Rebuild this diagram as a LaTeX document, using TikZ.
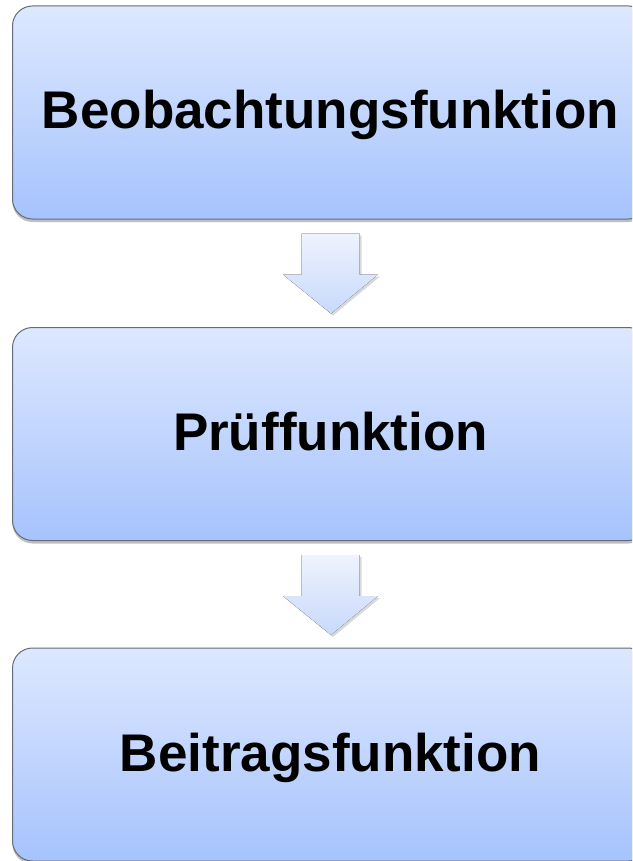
\documentclass[tikz,border=0pt]{standalone}
\usepackage{fontspec}
\setmainfont{Liberation Sans}
\usetikzlibrary{shadows,calc}
\definecolor{boxtop}{HTML}{DDE8FE}
\definecolor{boxbot}{HTML}{A6C3FD}
\definecolor{boxline}{HTML}{656B78}
\definecolor{arrtop}{HTML}{EEF3FD}
\definecolor{arrbot}{HTML}{C8D9FB}
\begin{document}
\begin{tikzpicture}[x=1pt,y=1pt,
  box/.style={rectangle, rounded corners=20pt, draw=boxline, line width=1pt,
    top color=boxtop, bottom color=boxbot, minimum width=636pt, minimum height=213pt,
    inner sep=0pt, text height=33pt, text depth=0pt, font=\fontsize{53}{60}\selectfont\bfseries,
    drop shadow={shadow xshift=0pt, shadow yshift=-3pt, opacity=0.25, fill=black}},
  blockarrow/.style={top color=arrtop, bottom color=arrbot,
    drop shadow={shadow xshift=2pt, shadow yshift=-2pt, opacity=0.15, fill=black}}]
\useasboundingbox (0,0) rectangle (632,-861);
\clip (0,0) rectangle (632,-861);
\fill[white] (0,0) rectangle (632,-861);
\node[box] (b1) at (330.5,-112.5) {Beobachtungsfunktion};
\node[box] (b2) at (330.5,-434) {Prüffunktion};
\node[box] (b3) at (330.5,-754.5) {Beitragsfunktion};
\foreach \s in {b1,b2}{
  \fill[blockarrow] ($(\s.south)+(-29,-14)$) -- ($(\s.south)+(29,-14)$)
    -- ($(\s.south)+(29,-55)$) -- ($(\s.south)+(47.5,-55)$)
    -- ($(\s.south)+(0.5,-94)$) -- ($(\s.south)+(-47.5,-55)$)
    -- ($(\s.south)+(-29,-55)$) -- cycle;
}
\end{tikzpicture}
\end{document}
